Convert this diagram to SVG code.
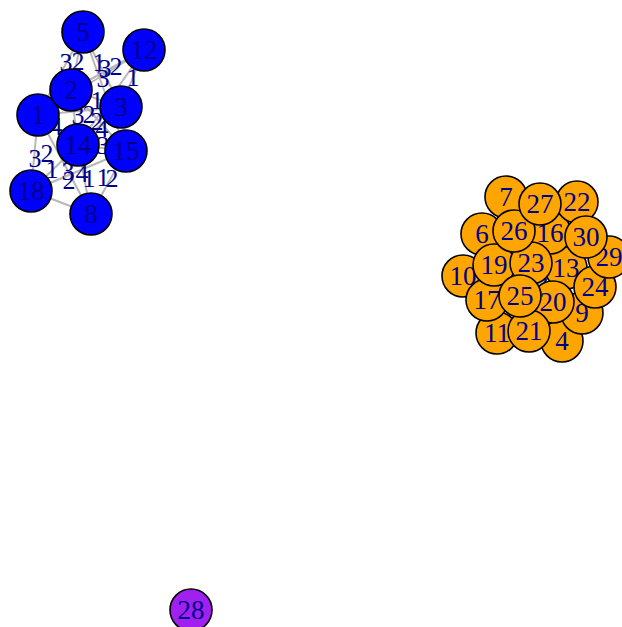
<svg xmlns="http://www.w3.org/2000/svg" width="622" height="627" viewBox="0 0 622 627">
<style>
.e{stroke:#b8b8b8;stroke-width:2;fill:none}
.el{font-family:"Liberation Serif",serif;font-size:26px;fill:#00008b;text-anchor:middle}
.n circle{stroke:#000;stroke-width:1.6}
.b circle{fill:#0000ff}
.o circle{fill:#ffa500}
.p circle{fill:#a020f0}
.n text{font-family:"Liberation Serif",serif;font-size:27px;fill:#00008b;text-anchor:middle}
</style>
<rect width="622" height="627" fill="#fff"/>
<g id="edges">
<line class="e" x1="83" y1="32" x2="71" y2="90"/>
<line class="e" x1="83" y1="32" x2="38" y2="115"/>
<line class="e" x1="83" y1="32" x2="121" y2="107"/>
<line class="e" x1="83" y1="32" x2="126" y2="151"/>
<line class="e" x1="144" y1="50" x2="71" y2="90"/>
<line class="e" x1="144" y1="50" x2="121" y2="107"/>
<line class="e" x1="144" y1="50" x2="78" y2="145"/>
<line class="e" x1="144" y1="50" x2="38" y2="115"/>
<line class="e" x1="71" y1="90" x2="121" y2="107"/>
<line class="e" x1="71" y1="90" x2="78" y2="145"/>
<line class="e" x1="71" y1="90" x2="126" y2="151"/>
<line class="e" x1="38" y1="115" x2="121" y2="107"/>
<line class="e" x1="38" y1="115" x2="78" y2="145"/>
<line class="e" x1="38" y1="115" x2="31" y2="191"/>
<line class="e" x1="38" y1="115" x2="91" y2="214"/>
<line class="e" x1="121" y1="107" x2="78" y2="145"/>
<line class="e" x1="121" y1="107" x2="126" y2="151"/>
<line class="e" x1="78" y1="145" x2="126" y2="151"/>
<line class="e" x1="78" y1="145" x2="91" y2="214"/>
<line class="e" x1="78" y1="145" x2="31" y2="191"/>
<line class="e" x1="126" y1="151" x2="91" y2="214"/>
<line class="e" x1="31" y1="191" x2="126" y2="151"/>
<line class="e" x1="31" y1="191" x2="91" y2="214"/>
<line class="e" x1="520" y1="296" x2="566" y2="268"/>
<line class="e" x1="531" y1="263" x2="553" y2="302"/>
<line class="e" x1="494" y1="265" x2="553" y2="302"/>
<line class="e" x1="514" y1="231" x2="550" y2="233"/>
</g>
<g id="edge-labels">
<text class="el" x="66" y="71">3</text>
<text class="el" x="78" y="70">2</text>
<text class="el" x="99" y="71">1</text>
<text class="el" x="105" y="77">3</text>
<text class="el" x="116" y="75">2</text>
<text class="el" x="103" y="87">3</text>
<text class="el" x="133" y="86">1</text>
<text class="el" x="97" y="109">1</text>
<text class="el" x="78" y="124">3</text>
<text class="el" x="89" y="123">2</text>
<text class="el" x="97" y="130">2</text>
<text class="el" x="102" y="137">4</text>
<text class="el" x="56" y="135">4</text>
<text class="el" x="103" y="154">3</text>
<text class="el" x="35" y="167">3</text>
<text class="el" x="47" y="162">2</text>
<text class="el" x="52" y="178">1</text>
<text class="el" x="68" y="180">3</text>
<text class="el" x="69" y="189">2</text>
<text class="el" x="82" y="182">4</text>
<text class="el" x="89" y="187">1</text>
<text class="el" x="103" y="186">1</text>
<text class="el" x="112" y="187">2</text>
<text class="el" x="542" y="292">2</text>
</g>
<g id="n1" class="n b"><circle cx="38" cy="115" r="21"/><text x="38" y="124">1</text></g>
<g id="n2" class="n b"><circle cx="71" cy="90" r="21"/><text x="71" y="99">2</text></g>
<g id="n3" class="n b"><circle cx="121" cy="107" r="21"/><text x="121" y="116">3</text></g>
<g id="n4" class="n o"><circle cx="562" cy="341" r="21"/><text x="562" y="350">4</text></g>
<g id="n5" class="n b"><circle cx="83" cy="32" r="21"/><text x="83" y="41">5</text></g>
<g id="n6" class="n o"><circle cx="482" cy="234" r="21"/><text x="482" y="243">6</text></g>
<g id="n7" class="n o"><circle cx="506" cy="197" r="21"/><text x="506" y="206">7</text></g>
<g id="n8" class="n b"><circle cx="91" cy="214" r="21"/><text x="91" y="223">8</text></g>
<g id="n9" class="n o"><circle cx="582" cy="313" r="21"/><text x="582" y="322">9</text></g>
<g id="n10" class="n o"><circle cx="463" cy="276" r="21"/><text x="463" y="285">10</text></g>
<g id="n11" class="n o"><circle cx="497" cy="333" r="21"/><text x="497" y="342">11</text></g>
<g id="n12" class="n b"><circle cx="144" cy="50" r="21"/><text x="144" y="59">12</text></g>
<g id="n13" class="n o"><circle cx="566" cy="268" r="21"/><text x="566" y="277">13</text></g>
<g id="n14" class="n b"><circle cx="78" cy="145" r="21"/><text x="78" y="154">14</text></g>
<g id="n15" class="n b"><circle cx="126" cy="151" r="21"/><text x="126" y="160">15</text></g>
<g id="n16" class="n o"><circle cx="550" cy="233" r="21"/><text x="550" y="242">16</text></g>
<g id="n17" class="n o"><circle cx="487" cy="300" r="21"/><text x="487" y="309">17</text></g>
<g id="n18" class="n b"><circle cx="31" cy="191" r="21"/><text x="31" y="200">18</text></g>
<g id="n19" class="n o"><circle cx="494" cy="265" r="21"/><text x="494" y="274">19</text></g>
<g id="n20" class="n o"><circle cx="553" cy="302" r="21"/><text x="553" y="311">20</text></g>
<g id="n21" class="n o"><circle cx="529" cy="331" r="21"/><text x="529" y="340">21</text></g>
<g id="n22" class="n o"><circle cx="577" cy="202" r="21"/><text x="577" y="211">22</text></g>
<g id="n23" class="n o"><circle cx="531" cy="263" r="21"/><text x="531" y="272">23</text></g>
<g id="n24" class="n o"><circle cx="595" cy="287" r="21"/><text x="595" y="296">24</text></g>
<g id="n25" class="n o"><circle cx="520" cy="296" r="21"/><text x="520" y="305">25</text></g>
<g id="n26" class="n o"><circle cx="514" cy="231" r="21"/><text x="514" y="240">26</text></g>
<g id="n27" class="n o"><circle cx="540" cy="204" r="21"/><text x="540" y="213">27</text></g>
<g id="n28" class="n p"><circle cx="191" cy="610" r="21"/><text x="191" y="619">28</text></g>
<g id="n29" class="n o"><circle cx="609" cy="257" r="21"/><text x="609" y="266">29</text></g>
<g id="n30" class="n o"><circle cx="586" cy="237" r="21"/><text x="586" y="246">30</text></g>
</svg>
